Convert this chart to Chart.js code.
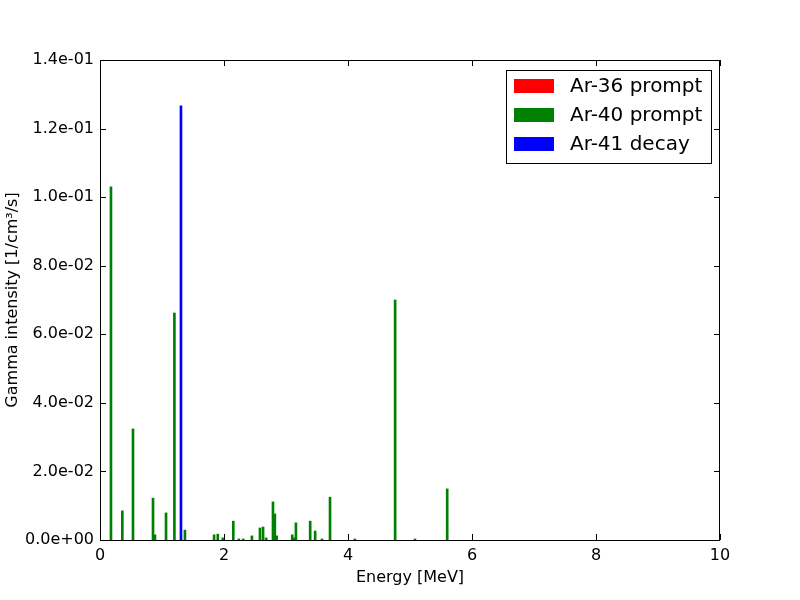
<!DOCTYPE html>
<html>
<head>
<meta charset="utf-8">
<script src="https://cdn.jsdelivr.net/npm/chart.js@4"></script>
<style>
  body { margin: 0; background: #fff; }
  #wrap { width: 800px; height: 600px; }
</style>
</head>
<body>
<div id="wrap"><canvas id="myChart"></canvas></div>
<script>
// energies in MeV, intensities in 1/cm3/s
const ar36Energy = [];
const ar36Value = [];

const ar40Energy = [0.177, 0.36, 0.532, 0.855, 0.887, 1.065, 1.2, 1.37, 1.84, 1.9, 1.98,
  2.15, 2.24, 2.31, 2.45, 2.58, 2.63, 2.68, 2.79, 2.82, 2.85, 3.1, 3.13, 3.16,
  3.39, 3.47, 3.58, 3.71, 4.11, 4.76, 5.08, 5.6];
const ar40Value = [0.103, 0.0085, 0.0324, 0.0122, 0.0015, 0.0079, 0.0662, 0.0029, 0.0015, 0.0017, 0.0006,
  0.0055, 0.0003, 0.0003, 0.0012, 0.0035, 0.0038, 0.0006, 0.0111, 0.0076, 0.0012, 0.0015, 0.0006, 0.005,
  0.0055, 0.0026, 0.0003, 0.0125, 0.0003, 0.070, 0.0003, 0.0149];

const ar41Energy = [1.306];
const ar41Value = [0.1266];

const xTicks = [0, 2, 4, 6, 8, 10];
const yTicks = [0, 0.02, 0.04, 0.06, 0.08, 0.1, 0.12, 0.14];
const yTickLabels = ["0.0e+00", "2.0e-02", "4.0e-02", "6.0e-02", "8.0e-02", "1.0e-01", "1.2e-01", "1.4e-01"];

function toPoints(xs, ys) {
  return xs.map((x, i) => ({ x: x, y: ys[i] }));
}

const FONT = "'DejaVu Sans', sans-serif";

// box around the plot, ticks pointing inwards on all four sides, and the legend
const framePlugin = {
  id: "frame",
  afterDraw(chart) {
    const ctx = chart.ctx;
    const a = chart.chartArea;
    const xs = chart.scales.x;
    const ys = chart.scales.y;
    ctx.save();
    ctx.strokeStyle = "#000";
    ctx.lineWidth = 1;
    ctx.beginPath();
    xTicks.forEach(function (v) {
      const px = Math.round(xs.getPixelForValue(v)) + 0.5;
      ctx.moveTo(px, a.bottom); ctx.lineTo(px, a.bottom - 6);
      ctx.moveTo(px, a.top); ctx.lineTo(px, a.top + 6);
    });
    yTicks.forEach(function (v) {
      const py = Math.round(ys.getPixelForValue(v)) + 0.5;
      ctx.moveTo(a.left, py); ctx.lineTo(a.left + 6, py);
      ctx.moveTo(a.right, py); ctx.lineTo(a.right - 6, py);
    });
    ctx.stroke();
    ctx.strokeRect(a.left + 0.5, a.top + 0.5, a.right - a.left - 1, a.bottom - a.top);

    // legend
    const lx = a.right - 214, ly = a.top + 10, lw = 205, lh = 93;
    ctx.fillStyle = "#fff";
    ctx.fillRect(lx, ly, lw, lh);
    ctx.strokeRect(lx + 0.5, ly + 0.5, lw, lh);
    ctx.font = "20px " + FONT;
    ctx.textBaseline = "middle";
    chart.data.datasets.forEach(function (ds, i) {
      const cy = ly + 16 + i * 29;
      ctx.fillStyle = ds.backgroundColor;
      ctx.fillRect(lx + 8, cy - 7, 40, 14);
      ctx.fillStyle = "#000";
      ctx.fillText(ds.label, lx + 64, cy + 1);
    });
    ctx.restore();
  }
};

const ctx = document.getElementById("myChart").getContext("2d");
new Chart(ctx, {
  type: "bar",
  data: {
    datasets: [
      {
        label: "Ar-36 prompt",
        data: toPoints(ar36Energy, ar36Value),
        backgroundColor: "#ff0000",
      },
      {
        label: "Ar-40 prompt",
        data: toPoints(ar40Energy, ar40Value),
        backgroundColor: "#008000",
      },
      {
        label: "Ar-41 decay",
        data: toPoints(ar41Energy, ar41Value),
        backgroundColor: "#0000ff",
      },
    ],
  },
  options: {
    responsive: true,
    maintainAspectRatio: false,
    animation: false,
    layout: { padding: { top: 60, right: 80, left: 0, bottom: 0 } },
    datasets: { bar: { barThickness: 2, grouped: false, borderWidth: 0 } },
    plugins: {
      legend: { display: false },
      tooltip: { enabled: false },
    },
    scales: {
      x: {
        type: "linear",
        min: 0,
        max: 10,
        offset: false,
        grid: { display: false, drawTicks: false },
        border: { display: false },
        afterBuildTicks: (s) => { s.ticks = xTicks.map((v) => ({ value: v })); },
        afterFit: (s) => { s.height = 60; },
        ticks: {
          color: "#000",
          padding: 6,
          maxRotation: 0,
          font: { family: FONT, size: 16 },
          callback: (v) => String(v),
        },
        title: {
          display: true,
          text: "Energy [MeV]",
          color: "#000",
          padding: { top: 0, bottom: 13 },
          font: { family: FONT, size: 16 },
        },
      },
      y: {
        min: 0,
        max: 0.14,
        grid: { display: false, drawTicks: false },
        border: { display: false },
        afterBuildTicks: (s) => { s.ticks = yTicks.map((v) => ({ value: v })); },
        afterFit: (s) => { s.width = 100; },
        ticks: {
          color: "#000",
          padding: 6,
          font: { family: FONT, size: 16 },
          callback: (v) => yTickLabels[yTicks.findIndex((t) => Math.abs(t - v) < 1e-9)],
        },
        title: {
          display: true,
          text: "Gamma intensity [1/cm³/s]",
          color: "#000",
          padding: { top: 3, bottom: 0 },
          font: { family: FONT, size: 16 },
        },
      },
    },
  },
  plugins: [framePlugin],
});
</script>
</body>
</html>
